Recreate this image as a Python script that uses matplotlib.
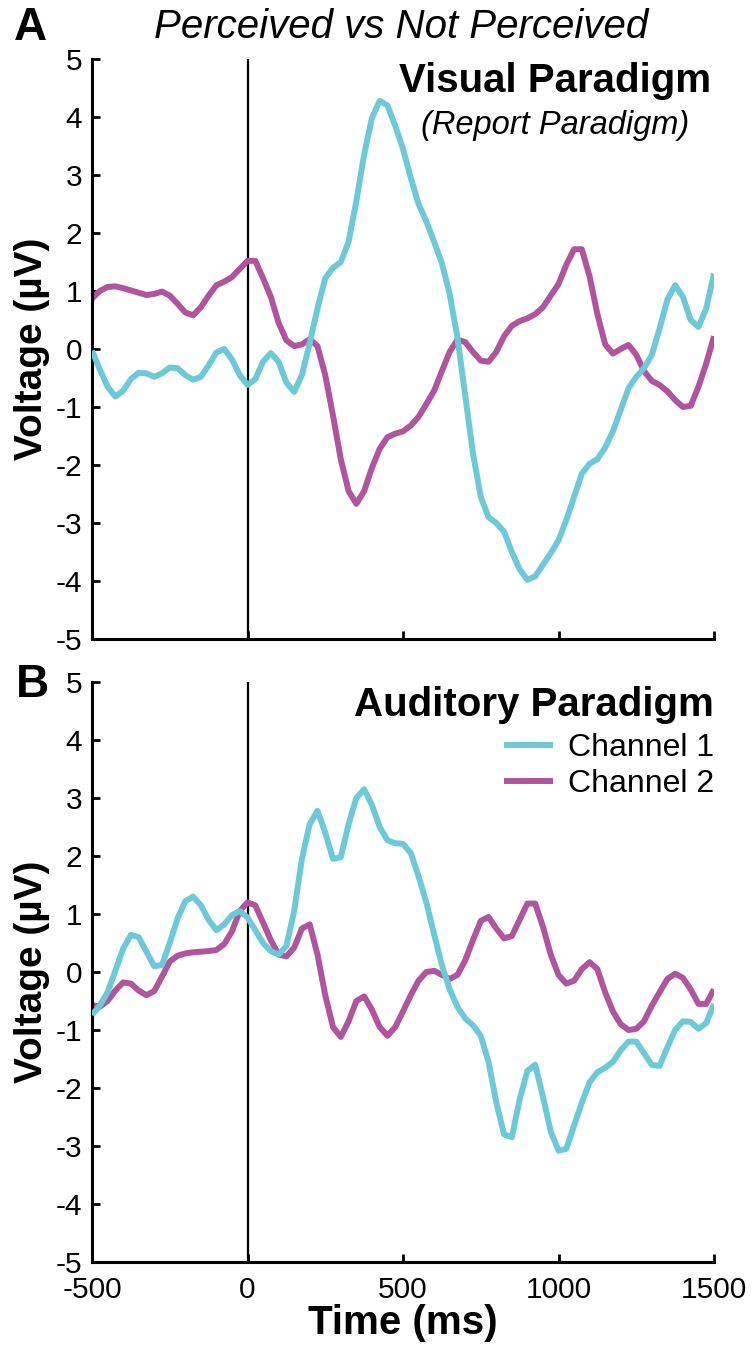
import numpy as np
import matplotlib as mpl
import matplotlib.pyplot as plt

mpl.rcParams['font.family'] = ['Liberation Sans', 'DejaVu Sans']
mpl.rcParams['axes.unicode_minus'] = False

# sample times (ms), one value every 25 ms
time_ms = np.arange(-500, 1501, 25)

# visual paradigm, perceived minus not perceived (uV)
visual_ch1 = [
    -0.03, -0.35, -0.65, -0.82, -0.72, -0.52, -0.41, -0.42, -0.48, -0.42,
    -0.32, -0.33, -0.45, -0.53, -0.48, -0.28, -0.06, 0.0, -0.18, -0.45,
    -0.62, -0.52, -0.22, -0.07, -0.22, -0.58, -0.74, -0.45, 0.10, 0.70,
    1.22, 1.40, 1.50, 1.85, 2.55, 3.35, 3.98, 4.28, 4.20, 3.85,
    3.45, 2.95, 2.50, 2.20, 1.85, 1.48, 0.95, 0.20, -0.80, -1.80,
    -2.55, -2.90, -3.00, -3.15, -3.50, -3.80, -3.98, -3.92, -3.72, -3.52,
    -3.30, -2.95, -2.55, -2.15, -1.98, -1.90, -1.70, -1.42, -1.05, -0.68,
    -0.48, -0.33, -0.10, 0.35, 0.85, 1.10, 0.90, 0.50, 0.38, 0.70,
    1.30]
visual_ch2 = [
    0.87, 1.00, 1.07, 1.08, 1.05, 1.01, 0.97, 0.93, 0.95, 0.99,
    0.92, 0.78, 0.63, 0.58, 0.72, 0.92, 1.10, 1.16, 1.24, 1.38,
    1.52, 1.52, 1.22, 0.90, 0.45, 0.15, 0.05, 0.08, 0.17, 0.05,
    -0.45, -1.15, -1.90, -2.45, -2.67, -2.45, -2.05, -1.72, -1.52, -1.46,
    -1.42, -1.32, -1.17, -0.95, -0.72, -0.38, -0.05, 0.16, 0.12, -0.05,
    -0.20, -0.22, -0.05, 0.22, 0.40, 0.48, 0.53, 0.60, 0.72, 0.92,
    1.12, 1.45, 1.72, 1.72, 1.25, 0.60, 0.08, -0.08, 0.00, 0.07,
    -0.10, -0.38, -0.55, -0.62, -0.73, -0.88, -1.00, -0.98, -0.65, -0.25,
    0.22]

# auditory paradigm
auditory_ch1 = [
    -0.74, -0.58, -0.35, 0.02, 0.40, 0.64, 0.60, 0.35, 0.10, 0.12,
    0.50, 0.92, 1.22, 1.30, 1.15, 0.90, 0.72, 0.82, 0.98, 1.05,
    0.94, 0.72, 0.50, 0.36, 0.30, 0.45, 1.05, 1.95, 2.55, 2.78,
    2.40, 1.95, 1.98, 2.55, 3.00, 3.15, 2.88, 2.50, 2.27, 2.22,
    2.21, 2.05, 1.65, 1.20, 0.65, 0.12, -0.30, -0.60, -0.80, -0.92,
    -1.10, -1.55, -2.25, -2.80, -2.85, -2.20, -1.70, -1.60, -2.15, -2.75,
    -3.08, -3.05, -2.65, -2.25, -1.90, -1.73, -1.65, -1.55, -1.35, -1.20,
    -1.20, -1.40, -1.60, -1.62, -1.30, -1.00, -0.85, -0.86, -0.98, -0.88,
    -0.55]
auditory_ch2 = [
    -0.57, -0.60, -0.50, -0.32, -0.18, -0.20, -0.32, -0.40, -0.33, -0.08,
    0.18, 0.28, 0.32, 0.34, 0.35, 0.36, 0.38, 0.48, 0.70, 1.05,
    1.20, 1.15, 0.85, 0.55, 0.30, 0.27, 0.42, 0.75, 0.82, 0.30,
    -0.40, -0.95, -1.12, -0.85, -0.50, -0.42, -0.65, -0.95, -1.10, -0.95,
    -0.68, -0.40, -0.15, 0.00, 0.02, -0.05, -0.12, -0.05, 0.20, 0.55,
    0.88, 0.95, 0.75, 0.58, 0.62, 0.90, 1.18, 1.18, 0.78, 0.30,
    -0.05, -0.20, -0.15, 0.05, 0.17, 0.05, -0.35, -0.68, -0.90, -1.00,
    -0.98, -0.85, -0.58, -0.35, -0.12, -0.03, -0.10, -0.30, -0.55, -0.55,
    -0.30]

channel_names = ['Channel 1', 'Channel 2']
ch1_color = '#6EC9D7'
ch2_color = '#B0549E'

W, H = 754, 1345
fig = plt.figure(figsize=(W / 100, H / 100), dpi=100)

line_kw = dict(lw=4.3, solid_capstyle='butt', solid_joinstyle='round')


def make_axes(top_px):
    ax = fig.add_axes([92 / W, (H - top_px - 580) / H, 622 / W, 580 / H])
    ax.set_xlim(-500, 1500)
    ax.set_ylim(-5, 5)
    ax.set_xticks([-500, 0, 500, 1000, 1500])
    ax.set_yticks(range(-5, 6))
    for s in ['top', 'right']:
        ax.spines[s].set_visible(False)
    for s in ['left', 'bottom']:
        ax.spines[s].set_linewidth(2.2)
    ax.tick_params(direction='in', length=6, width=2, labelsize=21.5)
    ax.tick_params(axis='y', pad=7)
    ax.tick_params(axis='x', pad=10)
    ax.axvline(0, color='black', lw=1.6, zorder=1)
    ax.set_ylabel('Voltage (µV)', fontsize=28, fontweight='bold', labelpad=4)
    return ax


# A: visual
ax1 = make_axes(59)
ax1.plot(time_ms, visual_ch1, color=ch1_color, zorder=3, **line_kw)
ax1.plot(time_ms, visual_ch2, color=ch2_color, zorder=2, **line_kw)
ax1.tick_params(axis='x', labelbottom=False)
ax1.text(990, 4.62, 'Visual Paradigm', fontsize=29, fontweight='bold',
         ha='center', va='center')
ax1.text(990, 3.85, '(Report Paradigm)', fontsize=23.5, style='italic',
         ha='center', va='center')

# B: auditory
ax2 = make_axes(682)
ax2.plot(time_ms, auditory_ch1, color=ch1_color, zorder=3,
         label=channel_names[0], **line_kw)
ax2.plot(time_ms, auditory_ch2, color=ch2_color, zorder=2,
         label=channel_names[1], **line_kw)
ax2.text(1500, 4.6, 'Auditory Paradigm', fontsize=29, fontweight='bold',
         ha='right', va='center')
ax2.legend(loc='upper right', bbox_to_anchor=(1.0, 0.912), frameon=False,
           fontsize=23, handlelength=1.55, handletextpad=0.45, labelspacing=0.2,
           borderaxespad=0, borderpad=0)
ax2.set_xlabel('Time (ms)', fontsize=29, fontweight='bold', labelpad=0)

fig.text(401 / W, 1 - 27 / H, 'Perceived vs Not Perceived', fontsize=29,
         style='italic', ha='center', va='center')
fig.text(14 / W, 1 - 28 / H, 'A', fontsize=33, fontweight='bold', va='center')
fig.text(16 / W, 1 - 685 / H, 'B', fontsize=33, fontweight='bold', va='center')

fig.savefig('out.png', dpi=100)
